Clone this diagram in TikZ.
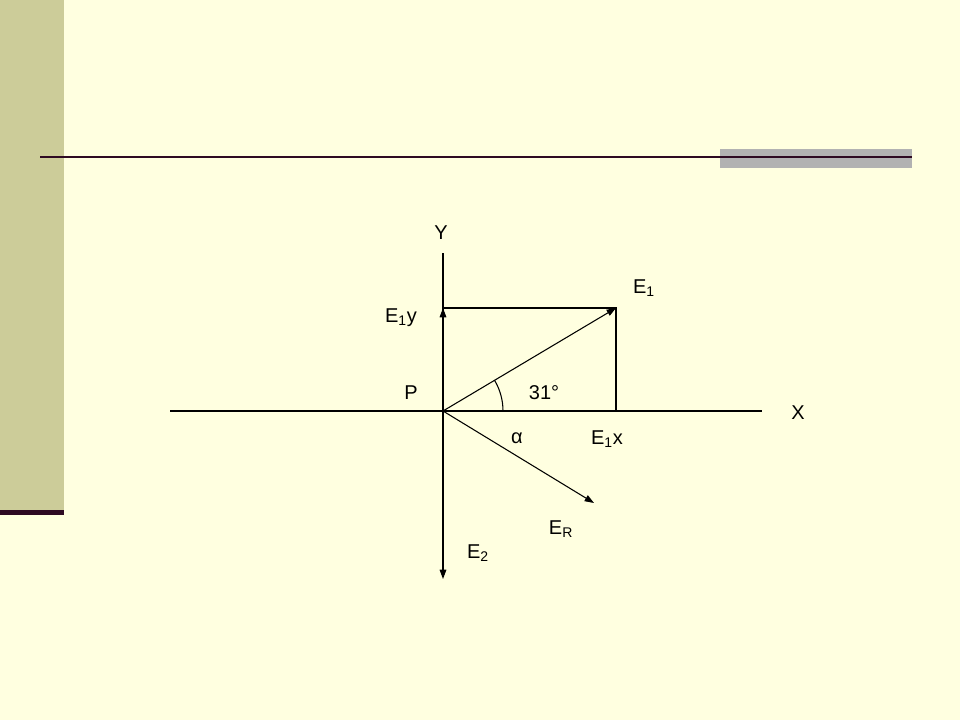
\documentclass[tikz,border=0pt]{standalone}
\usepackage{fontspec}
\setmainfont{Liberation Sans}
\usetikzlibrary{arrows.meta}
\definecolor{paper}{HTML}{FFFFE0}
\definecolor{bandolive}{HTML}{CCCC99}
\definecolor{plum}{HTML}{2E0A22}
\definecolor{bargray}{HTML}{B2B2B2}
\tikzset{
  lbl/.style={font=\fontsize{15}{18}\selectfont, inner sep=0pt},
  vec/.style={-{Triangle[length=7pt,width=5pt]}, line width=0.8pt},
  axis/.style={line width=0.8pt},
}
\begin{document}
\begin{tikzpicture}[x=0.75pt, y=-0.75pt]
    % Slide background
    \fill[paper] (0,0) rectangle (960,720);
    \useasboundingbox (0,0) rectangle (960,720);
    \fill[bandolive] (0,0) rectangle (64,511);
    \fill[plum] (0,510) rectangle (64,515);
    \fill[bargray] (720,149) rectangle (912,168);
    \draw[plum, line width=1.6pt] (40,157) -- (912,157);

    % Axes
    \coordinate (P0) at (443,411);
    \coordinate (xleft) at (170,411);
    \coordinate (xright) at (762,411);
    \coordinate (ytop) at (443,253);
    \draw[axis] (xleft) -- (xright);
    \draw[axis] (P0) -- (ytop);

    % Vectors
    \coordinate (e1) at (616,308);
    \coordinate (e1y) at (443,308);
    \coordinate (e1x) at (616,411);
    \coordinate (er) at (594,503);
    \coordinate (e2) at (443,579);
    \draw[vec] (P0) -- (e1);
    \draw[vec] (P0) -- (e1y);
    \draw[vec] (P0) -- (er);
    \draw[vec] (P0) -- (e2);
    \draw[axis] (e1y) -- (e1) -- (e1x);
    \draw[axis] (P0) ++(60,0) arc[start angle=0, end angle=-31, radius=60];

    % Labels
    \node[lbl] (ylab) at (441,233) {Y};
    \node[lbl] (xlab) at (798,413) {X};
    \node[lbl] (plab) at (411,393) {P};
    \node[lbl] (anglab) at (544,393) {31°};
    \node[lbl] (alphalab) at (517,438) {α};
    \node[lbl] (e1lab) at (644,288) {E\textsubscript{1}};
    \node[lbl] (e1ylab) at (401,318) {E\textsubscript{1}y};
    \node[lbl] (e1xlab) at (607,439) {E\textsubscript{1}x};
    \node[lbl] (erlab) at (561,529) {E\textsubscript{R}};
    \node[lbl] (e2lab) at (478,553) {E\textsubscript{2}};
\end{tikzpicture}
\end{document}
